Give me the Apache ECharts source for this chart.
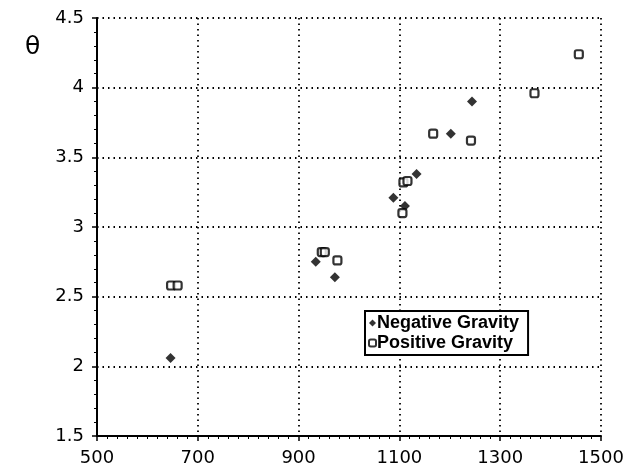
<!DOCTYPE html>
<html>
<head>
<meta charset="UTF-8">
<title></title>
<script src="https://cdn.jsdelivr.net/npm/echarts@6/dist/echarts.min.js"></script>
<style>
  html, body { margin: 0; padding: 0; background: #fff; }
  #main { width: 628px; height: 475px; }
</style>
</head>
<body>
<div id="main"></div>
<script>
// data: [x, theta]
var negativeGravity = [
  [646, 2.06], [934, 2.75], [972, 2.64], [1088, 3.21], [1111, 3.15],
  [1134, 3.38], [1202, 3.67], [1244, 3.90]
];
var positiveGravity = [
  [647, 2.58], [660, 2.58], [946, 2.82], [952, 2.82], [977, 2.76],
  [1106, 3.10], [1108, 3.32], [1116, 3.33], [1167, 3.67], [1242, 3.62],
  [1368, 3.96], [1456, 4.24]
];
var seriesNames = ['Negative Gravity', 'Positive Gravity'];

var chart = echarts.init(document.getElementById('main'));
var labelFont = { color: '#000', fontFamily: 'DejaVu Sans', fontSize: 18 };
var dotted = { show: true, lineStyle: { color: '#000', type: [1.5, 4], width: 1.8 } };

var option = {
  animation: false,
  title: {
    text: 'θ', left: 20, top: 30,
    textStyle: { fontFamily: 'DejaVu Sans', fontSize: 25, fontWeight: 'normal', color: '#000' }
  },
  grid: { left: 97, right: 27, top: 18, bottom: 39 },
  legend: {
    data: seriesNames,
    orient: 'vertical',
    left: 365, top: 311,
    itemWidth: 7, itemHeight: 7, itemGap: 2,
    padding: [3, 9, 3, 3],
    backgroundColor: '#fff',
    borderColor: '#000', borderWidth: 2,
    textStyle: { fontFamily: 'Liberation Sans', fontWeight: 'bold', fontSize: 18, color: '#000', padding: [0, 0, 0, -4] }
  },
  xAxis: {
    type: 'value', min: 500, max: 1500, interval: 200,
    axisLine: { show: true, lineStyle: { color: '#000', width: 2 } },
    axisTick: { show: true, length: 5, lineStyle: { color: '#000', width: 1.5 } },
    minorTick: { show: true, splitNumber: 10, length: 3, lineStyle: { color: '#000', width: 1 } },
    axisLabel: Object.assign({ margin: 13, formatter: function (v) { return String(v); } }, labelFont),
    splitLine: dotted
  },
  yAxis: {
    type: 'value', min: 1.5, max: 4.5, interval: 0.5,
    axisLine: { show: true, lineStyle: { color: '#000', width: 2 } },
    axisTick: { show: true, length: 5, lineStyle: { color: '#000', width: 1.5 } },
    minorTick: { show: true, splitNumber: 5, length: 3, lineStyle: { color: '#000', width: 1 } },
    axisLabel: Object.assign({ margin: 13 }, labelFont),
    splitLine: dotted
  },
  series: [
    {
      name: seriesNames[0], type: 'scatter', data: negativeGravity,
      symbol: 'diamond', symbolSize: [10, 10],
      itemStyle: { color: '#000' }
    },
    {
      name: seriesNames[1], type: 'scatter', data: positiveGravity,
      symbol: 'roundRect', symbolSize: 8,
      itemStyle: { color: '#fff', borderColor: '#000', borderWidth: 2.2 }
    }
  ]
};
chart.setOption(option);
</script>
</body>
</html>
